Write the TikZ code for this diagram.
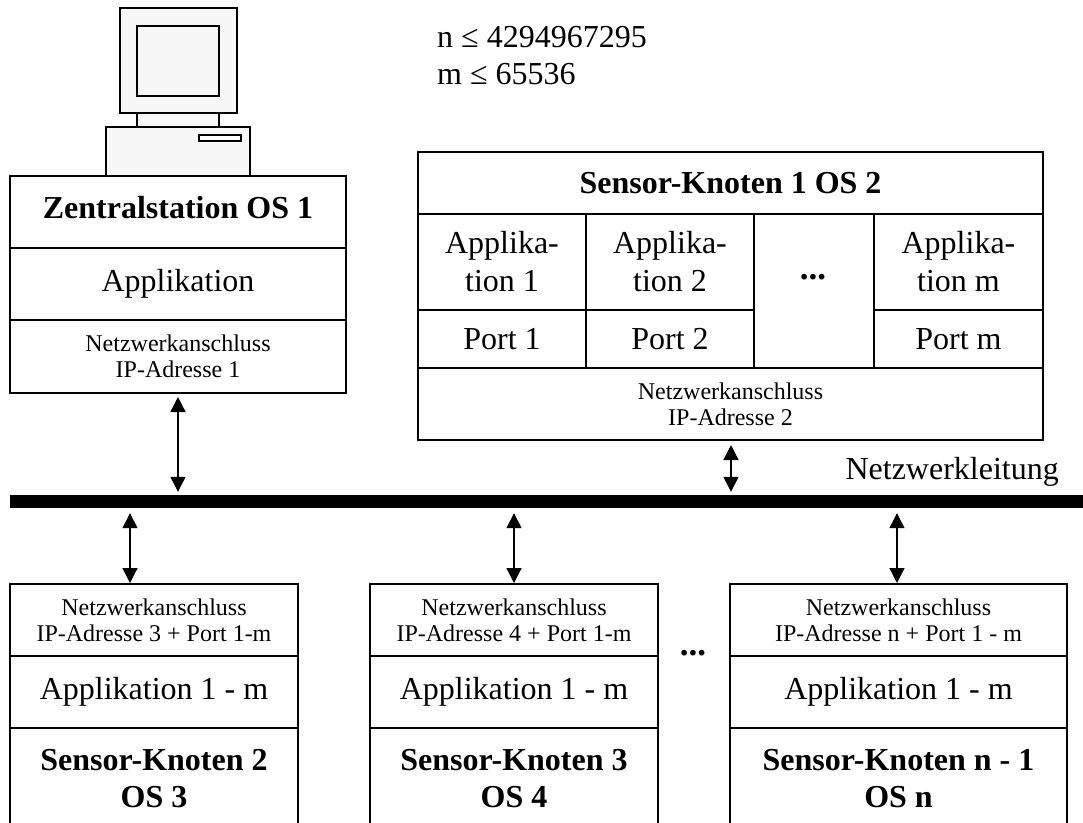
\documentclass[tikz,border=0pt]{standalone}
\usepackage{fontspec}
\setmainfont{Liberation Serif}
\usetikzlibrary{arrows.meta}
\definecolor{pcfill}{HTML}{F7F7F7}
\newcommand\fs[1]{\fontsize{#1}{#1}\selectfont}
\tikzset{
  cell/.style={draw,line width=1.5pt,inner sep=0pt,align=center,font=\fs{32}},
  small/.style={font=\fs{24},execute at begin node={\baselineskip=26pt}},
  ttl/.style={font=\fs{32}\bfseries,execute at begin node={\baselineskip=37pt}},
  two/.style={execute at begin node={\baselineskip=38pt}},
  pc/.style={draw,line width=1.5pt,fill=pcfill},
  link/.style={line width=1.3pt,{Triangle[length=15pt,width=15pt]}-{Triangle[length=15pt,width=15pt]}},
  plain/.style={inner sep=0pt,font=\fs{32}},
  dots/.style={inner sep=0pt,font=\fs{35}\bfseries}
}
\newcommand\cell[6][]{%
  \pgfmathsetmacro\cw{#4-#2}\pgfmathsetmacro\ch{#5-#3}%
  \node[cell,minimum width=\cw pt,minimum height=\ch pt,#1] (#6) at ({(#2+#4)/2},{(#3+#5)/2})}
\begin{document}
\begin{tikzpicture}[x=1pt,y=-1pt]
\useasboundingbox (0,0) rectangle (1083,822);
\clip (0,0) rectangle (1083,822);
% computer
\draw[pc] (137,113) rectangle (219,127);
\draw[pc] (120,8) rectangle (237,113);
\draw[pc] (137,26) rectangle (219,96);
\draw[pc] (106,127) rectangle (250,176);
\draw[pc,fill=white] (199,135) rectangle (241,141);
% text
\node[plain,anchor=base west] (nlabel) at (437,47) {n ≤ 4294967295};
\node[plain,anchor=base west] (mlabel) at (437,84) {m ≤ 65536};
\node[plain,anchor=base east] (netz) at (1059,479) {Netzwerkleitung};
% Zentralstation
\cell[ttl,text depth=10pt]{10}{176}{346}{248}{zt} {Zentralstation OS 1};
\cell{10}{248}{346}{320}{za} {Applikation};
\cell[small]{10}{320}{346}{393}{zn} {Netzwerkanschluss\\IP-Adresse 1};
% Sensor 1
\cell[ttl]{418}{152}{1043}{214}{st} {Sensor-Knoten 1 OS 2};
\cell[two]{418}{214}{586}{310}{sa1} {Applika-\\tion 1};
\cell[two]{586}{214}{754}{310}{sa2} {Applika-\\tion 2};
\cell[two]{874}{214}{1043}{310}{sa3} {Applika-\\tion m};
\cell{418}{310}{586}{368}{sp1} {Port 1};
\cell{586}{310}{754}{368}{sp2} {Port 2};
\cell{874}{310}{1043}{368}{sp3} {Port m};
\cell[small]{418}{368}{1043}{440}{sn} {Netzwerkanschluss\\IP-Adresse 2};
\node[dots,anchor=base] (d1) at (813,279) {...};
% bus
\node[fill=black,inner sep=0pt,minimum width=1073pt,minimum height=13pt] (bus) at (546.5,501.5) {};
% bottom row
\cell[small]{10}{584}{298}{656}{an} {Netzwerkanschluss\\IP-Adresse 3 + Port 1-m};
\cell{10}{656}{298}{728}{aa} {Applikation 1 - m};
\cell[ttl]{10}{728}{298}{830}{at} {Sensor-Knoten 2\\OS 3};
\cell[small]{370}{584}{658}{656}{bn} {Netzwerkanschluss\\IP-Adresse 4 + Port 1-m};
\cell{370}{656}{658}{728}{ba} {Applikation 1 - m};
\cell[ttl]{370}{728}{658}{830}{bt} {Sensor-Knoten 3\\OS 4};
\cell[small]{730}{584}{1067}{656}{cn} {Netzwerkanschluss\\IP-Adresse n + Port 1 - m};
\cell{730}{656}{1067}{728}{ca} {Applikation 1 - m};
\cell[ttl]{730}{728}{1067}{830}{ct} {Sensor-Knoten n - 1\\OS n};
\node[dots,anchor=base] (d2) at (693,655) {...};
% connectors
\coordinate (z0) at (178,393);
\coordinate (s0) at (731,440);
\coordinate (a0) at (130,584);
\coordinate (b0) at (514,584);
\coordinate (c0) at (897,584);
\draw[link] ([yshift=-4pt]z0) -- ([yshift=3pt]z0 |- bus.north);
\draw[link] ([yshift=-5pt]s0) -- ([yshift=3pt]s0 |- bus.north);
\draw[link] ([yshift=-5pt]a0 |- bus.south) -- ([yshift=1pt]a0);
\draw[link] ([yshift=-5pt]b0 |- bus.south) -- ([yshift=1pt]b0);
\draw[link] ([yshift=-5pt]c0 |- bus.south) -- ([yshift=1pt]c0);
\end{tikzpicture}
\end{document}
